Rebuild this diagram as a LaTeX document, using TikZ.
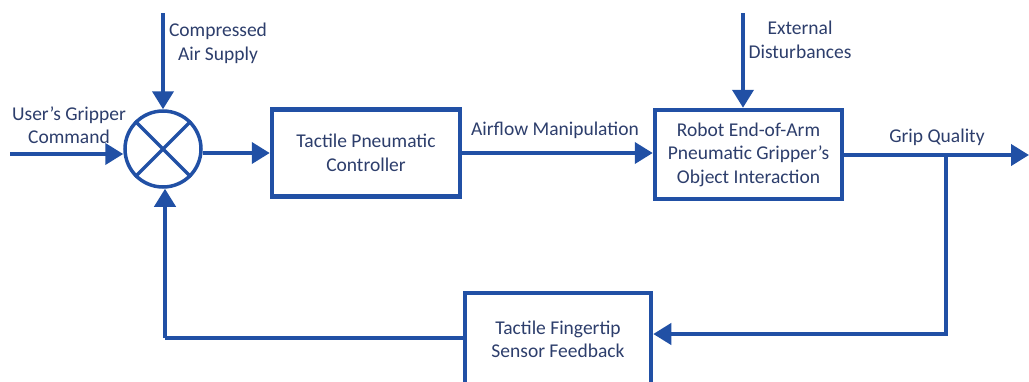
\documentclass[tikz,border=0pt]{standalone}
\usepackage{fontspec}
\setmainfont{Carlito}
\usetikzlibrary{arrows.meta,calc}
\definecolor{lineblue}{RGB}{33,80,165}
\definecolor{textblue}{RGB}{45,62,108}
\tikzset{
  conn/.style={draw=lineblue, line width=4pt, -{Triangle[length=18pt,width=21pt]}},
  plain/.style={draw=lineblue, line width=4pt},
  blockbox/.style={draw=lineblue, line width=4.5pt, fill=white, text=textblue, align=center,
    font=\fontsize{19.5}{23.5}\selectfont, inner sep=0pt},
  lbl/.style={text=textblue, align=center, font=\fontsize{19.5}{23.5}\selectfont, inner sep=0pt},
  sumj/.style={draw=lineblue, line width=3.5pt, circle, minimum size=76pt, inner sep=0pt}
}
\begin{document}
\begin{tikzpicture}[x=1pt,y=-1pt]
\useasboundingbox (0,0) rectangle (1029,381);
\clip (0,0) rectangle (1029,381);
\fill[white] (0,0) rectangle (1029,381);
% summing junction
\node[sumj] (S) at (163,149) {};
\draw[draw=lineblue, line width=3.5pt] (S.north west) -- (S.south east) (S.north east) -- (S.south west);
% blocks
\node[blockbox, minimum width=188pt, minimum height=87pt] (B1) at (366,153) {Tactile Pneumatic\\Controller};
\node[blockbox, minimum width=187pt, minimum height=89pt] (B2) at (748.5,154.5) {Robot End-of-Arm\\Pneumatic Gripper’s\\Object Interaction};
\node[blockbox, minimum width=186pt, minimum height=93pt] (B3) at (558,339.5) {Tactile Fingertip\\Sensor Feedback};
% coordinates
\coordinate (inp) at (10,154);
\coordinate (air) at (163,13);
\coordinate (ext) at (743,13);
\coordinate (outp) at (1029,155);
\coordinate (br) at (946,155);
\coordinate (fb) at (946,334);
\coordinate (fbl) at (165,338);
% connectors
\draw[conn] (inp) -- (inp -| S.west);
\draw[conn] (air) -- (S.north);
\draw[conn] (S.east |- B1.west) -- (B1.west);
\draw[conn] (B1.east) -- (B1.east -| B2.west);
\draw[conn] (ext) -- (ext |- B2.north);
\draw[conn] (B2.east |- outp) -- (outp);
\draw[conn] (br) -- (fb) -- (fb -| B3.east);
\draw[plain] (B3.west |- fbl) -- (fbl);
\draw[conn] (fbl) -- (fbl |- S.south);
% labels
\node[lbl] (lu) at (69,125) {User’s Gripper\\Command};
\node[lbl] (lc) at (218,43.5) {Compressed\\Air Supply};
\node[lbl] (la) at (555,130) {Airflow Manipulation};
\node[lbl] (le) at (800,40) {External\\Disturbances};
\node[lbl] (lg) at (937,137) {Grip Quality};
\end{tikzpicture}
\end{document}
